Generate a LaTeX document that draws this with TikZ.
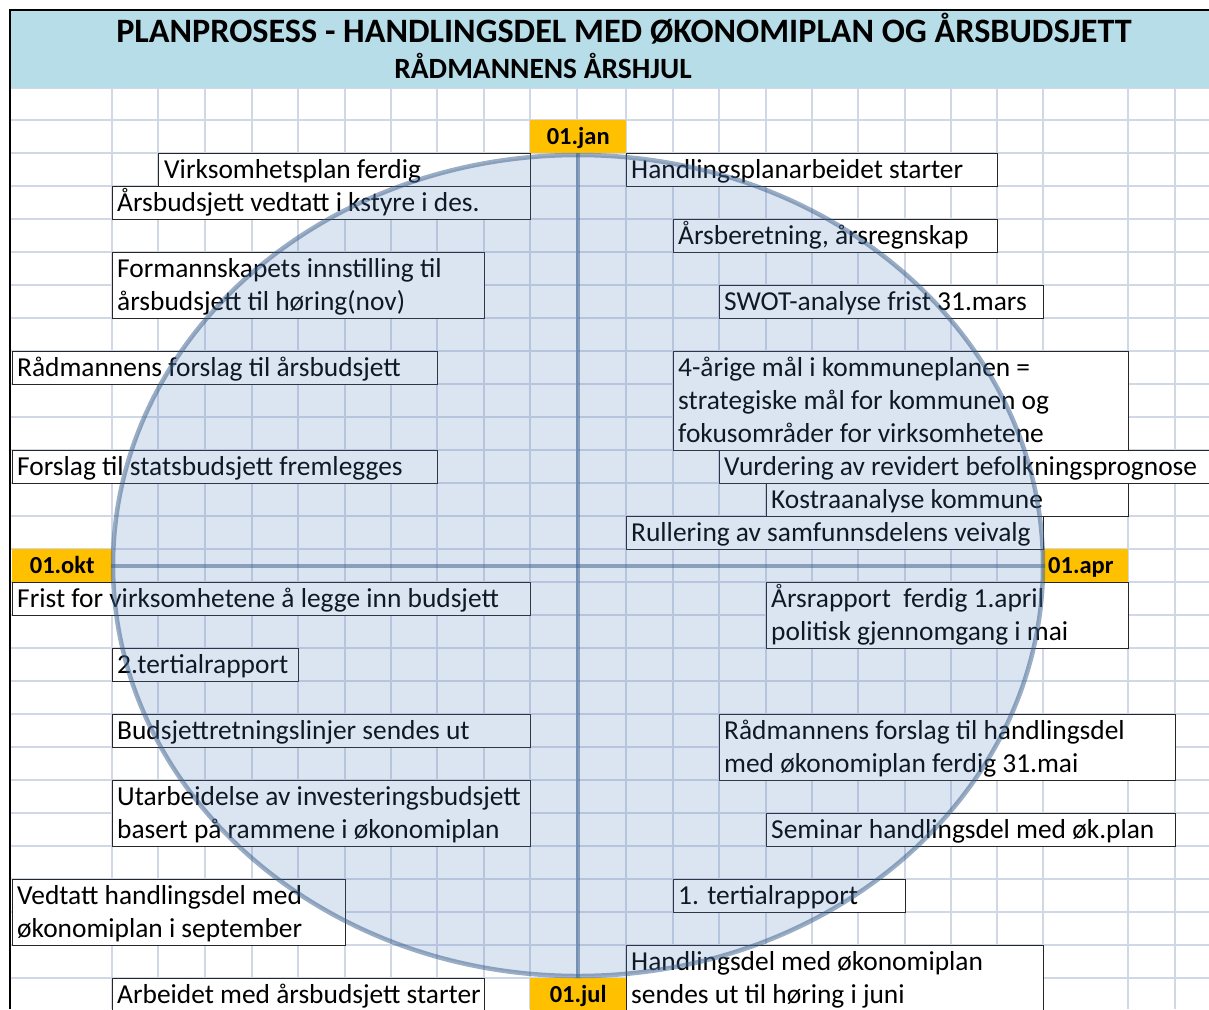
\documentclass[tikz,border=0pt]{standalone}
\usepackage{fontspec}
\setmainfont{Carlito}
\usepackage{tikz}
\usetikzlibrary{shapes}
\usetikzlibrary{positioning}
\definecolor{tittelblaa}{HTML}{B7DEE8}
\definecolor{datooransje}{HTML}{FFC000}
\definecolor{rutefarge}{HTML}{D0D7E5}
\definecolor{hjulfyll}{HTML}{4F81BD}
\definecolor{hjulkant}{HTML}{385D8A}
\definecolor{boksstrek}{HTML}{262626}
\tikzstyle{rutenett}=[draw=rutefarge,line width=1.2pt]
\tikzstyle{boks}=[rectangle,draw=boksstrek,line width=1.4pt,fill=white,anchor=north west,inner sep=0pt]
\tikzstyle{tekst}=[anchor=base west,inner sep=0pt,font=\fontsize{27.4}{33}\selectfont]
\tikzstyle{dato}=[rectangle,fill=datooransje,anchor=north west,inner sep=0pt,minimum height=33,text height=19,text depth=3,font=\bfseries\fontsize{24.5}{28}\selectfont]
\tikzstyle{hjul}=[ellipse,inner sep=0pt,fill=hjulfyll,fill opacity=0.2,draw=hjulkant,draw opacity=0.5,line width=4.5pt]
\tikzstyle{akse}=[draw=hjulkant,draw opacity=0.5,line width=4pt]

\begin{document}
\begin{tikzpicture}[x=1pt,y=-1pt]
	\clip (0,0) rectangle (1209,1009);
	\fill[white] (0,0) rectangle (1209,1009);
	
	% rutenett
	\foreach \x in {112,158,205,252,298,345,391,437,484,530,577,626,673,719,766,812,858,905,951,997,1043,1128,1175}
		\draw[rutenett] (\x,88) -- (\x,1009);
	\foreach \y in {88,120,153,...,978}
		\draw[rutenett] (10,\y) -- (1209,\y);
	
	% overskrift
	\fill[tittelblaa] (10,10) rectangle (1209,88);
	\node (tittel) at (624,42) [anchor=base,inner sep=0pt,font=\bfseries\fontsize{34.2}{36}\selectfont] {PLANPROSESS - HANDLINGSDEL MED ØKONOMIPLAN OG ÅRSBUDSJETT};
	\node (undertittel) at (543,78) [anchor=base,inner sep=0pt,font=\bfseries\fontsize{29.4}{31}\selectfont] {RÅDMANNENS ÅRSHJUL};
	\draw[line width=2pt] (10,1009) -- (10,10) -- (1209,10);
	
	% datoer
	\node[dato,minimum width=96] (jan) at (530,120) {01.jan};
	\node[dato,minimum width=100] (okt) at (12,549) {01.okt};
	\node[dato,text width=75,inner xsep=5pt,align=left] (apr) at (1043,549) {01.apr};
	\node[dato,minimum width=96] (jul) at (530,978) {01.jul};
	
	% venstre side
	\node[boks,minimum width=372,minimum height=33] (virk) at (158,153) {};
	\node[tekst] (virk-1) at (164,178) {Virksomhetsplan ferdig};
	\node[boks,minimum width=418,minimum height=33] (vedtatt) at (112,186) {};
	\node[tekst] (vedtatt-1) at (117,211) {Årsbudsjett vedtatt i kstyre i des.};
	\node[boks,minimum width=372,minimum height=66] (formsk) at (112,252) {};
	\node[tekst] (formsk-1) at (117,277) {Formannskapets innstilling til};
	\node[tekst] (formsk-2) at (117,310) {årsbudsjett til høring(nov)};
	\node[boks,minimum width=425,minimum height=33] (radm) at (12,351) {};
	\node[tekst] (radm-1) at (17,376) {Rådmannens forslag til årsbudsjett};
	\node[boks,minimum width=425,minimum height=33] (stat) at (12,450) {};
	\node[tekst] (stat-1) at (17,475) {Forslag til statsbudsjett fremlegges};
	\node[boks,minimum width=518,minimum height=33] (frist) at (12,582) {};
	\node[tekst] (frist-1) at (17,607) {Frist for virksomhetene å legge inn budsjett};
	\node[boks,minimum width=186,minimum height=33] (ter2) at (112,648) {};
	\node[tekst] (ter2-1) at (117,673) {2.tertialrapport};
	\node[boks,minimum width=418,minimum height=33] (retn) at (112,714) {};
	\node[tekst] (retn-1) at (117,739) {Budsjettretningslinjer sendes ut};
	\node[boks,minimum width=418,minimum height=66] (invest) at (112,780) {};
	\node[tekst] (invest-1) at (117,805) {Utarbeidelse av investeringsbudsjett};
	\node[tekst] (invest-2) at (117,838) {basert på rammene i økonomiplan};
	\node[boks,minimum width=333,minimum height=66] (sept) at (12,879) {};
	\node[tekst] (sept-1) at (17,904) {Vedtatt handlingsdel med};
	\node[tekst] (sept-2) at (17,937) {økonomiplan i september};
	\node[boks,minimum width=372,minimum height=33] (arbeid) at (112,978) {};
	\node[tekst] (arbeid-1) at (117,1003) {Arbeidet med årsbudsjett starter};
	
	% hoyre side
	\node[boks,minimum width=371,minimum height=33] (hplan) at (626,153) {};
	\node[tekst] (hplan-1) at (631,178) {Handlingsplanarbeidet starter};
	\node[boks,minimum width=324,minimum height=33] (beret) at (673,219) {};
	\node[tekst] (beret-1) at (678,244) {Årsberetning, årsregnskap};
	\node[boks,minimum width=324,minimum height=33] (swot) at (719,285) {};
	\node[tekst] (swot-1) at (724,310) {SWOT-analyse frist 31.mars};
	\node[boks,minimum width=455,minimum height=99] (maal) at (673,351) {};
	\node[tekst] (maal-1) at (678,376) {4-årige mål i kommuneplanen =};
	\node[tekst] (maal-2) at (678,409) {strategiske mål for kommunen og};
	\node[tekst] (maal-3) at (678,442) {fokusområder for virksomhetene};
	\node[boks,minimum width=520,minimum height=33] (befolk) at (719,450) {};
	\node[tekst] (befolk-1) at (724,475) {Vurdering av revidert befolkningsprognose};
	\node[boks,minimum width=362,minimum height=33] (kostra) at (766,483) {};
	\node[tekst] (kostra-1) at (771,508) {Kostraanalyse kommune};
	\node[boks,minimum width=417,minimum height=33] (rull) at (626,516) {};
	\node[tekst] (rull-1) at (631,541) {Rullering av samfunnsdelens veivalg};
	\node[boks,minimum width=362,minimum height=66] (arsrap) at (766,582) {};
	\node[tekst] (arsrap-1) at (771,607) {Årsrapport\ \ ferdig 1.april};
	\node[tekst] (arsrap-2) at (771,640) {politisk gjennomgang i mai};
	\node[boks,minimum width=456,minimum height=66] (hforslag) at (719,714) {};
	\node[tekst] (hforslag-1) at (724,739) {Rådmannens forslag til handlingsdel};
	\node[tekst] (hforslag-2) at (724,772) {med økonomiplan ferdig 31.mai};
	\node[boks,minimum width=409,minimum height=33] (seminar) at (766,813) {};
	\node[tekst] (seminar-1) at (771,838) {Seminar handlingsdel med øk.plan};
	\node[boks,minimum width=232,minimum height=33] (ter1) at (673,879) {};
	\node[tekst] (ter1-1) at (678,904) {1. tertialrapport};
	\node[boks,minimum width=417,minimum height=66] (horing) at (626,945) {};
	\node[tekst] (horing-1) at (631,970) {Handlingsdel med økonomiplan};
	\node[tekst] (horing-2) at (631,1003) {sendes ut til høring i juni};
	
	% aarshjulet
	\node[hjul,minimum width=930,minimum height=821] (hjul) at (578,565.5) {};
	\draw[akse] (hjul.north) -- (hjul.south);
	\draw[akse] (hjul.west) -- (hjul.east);
\end{tikzpicture}
\end{document}
